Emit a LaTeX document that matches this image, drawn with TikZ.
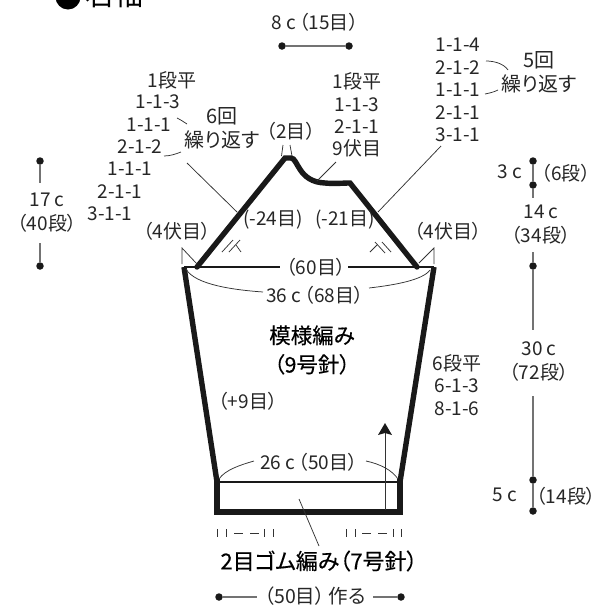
\documentclass[tikz,border=0pt]{standalone}
\usepackage{fontspec}
\setmainfont[RawFeature={+palt}]{Noto Sans CJK JP}
\newfontfamily\medfont[RawFeature={+palt},FakeBold=0.3]{Noto Sans CJK JP}
\begin{document}
\begin{tikzpicture}[x=1pt,y=-1pt,
  lbl/.style={inner sep=0pt,font=\fontsize{19}{20}\selectfont,text=black!85,align=center},
  lblb/.style={inner sep=0pt,font=\medfont\fontsize{22}{24}\selectfont,text=black,align=center},
  thick line/.style={line width=5.4pt,color=black!90,line join=miter},
  mid line/.style={line width=2.6pt,color=black!90},
  thin line/.style={line width=0.75pt,color=black!80},
  dim line/.style={line width=1.1pt,color=black!55},
  dimdot/.style={circle,fill=black!90,draw=none,inner sep=0pt,minimum size=7.5pt}]
\useasboundingbox (0,0) rectangle (597,606);
\clip (0,0) rectangle (597,606);
% title
\node[circle,fill=black,inner sep=0pt,minimum size=25pt] (bullet) at (68,-3) {};
\node[lbl,text=black,font=\fontsize{29}{30}\selectfont,anchor=west] (title) at (85,-6) {右袖};
% outline
\coordinate (apexL) at (285,158);
\coordinate (apexR) at (291,158);
\coordinate (shL) at (197,267);
\coordinate (cornL) at (184,267);
\coordinate (shR) at (417,267);
\coordinate (cornR) at (434,267);
\coordinate (cuffL) at (217,482);
\coordinate (cuffR) at (400,482);
\coordinate (botL) at (217,512);
\coordinate (botR) at (400,512);
\coordinate (capB) at (350,183);
\draw[thick line] (cornL) -- (cuffL);
\draw[thick line] (cornR) -- (cuffR);
\draw[thick line,line cap=round] (shL) -- (apexL) -- (apexR)
  .. controls (298,158) and (298,182) .. (325,183)
  .. controls (335,184) and (342,183) .. (capB) -- (shR);
\draw[thick line,line cap=rect] (cuffL) -- (botL) -- (botR) -- (cuffR);
\draw[mid line] (cuffL) -- (cuffR);
\draw[mid line] (cornL) -- (shL) -- (280,267);
\draw[mid line] (348,267) -- (shR) -- (cornR);
\node[lbl] (w60) at (316,267) {（60目）};
% cap dart marks
\draw[thin line] (222,252) -- (233,240);
\draw[thin line] (229,252) -- (240,240);
\draw[thin line] (236,245) -- (241,252);
\draw[thin line] (370,252) -- (377,245);
\draw[thin line] (375,242) -- (385,253);
\draw[thin line] (382,242) -- (391,252);
% neck ticks
\draw[thin line] (283,145) -- (281.5,156);
\draw[thin line] (290,145) -- (292,156);
% corner triangles
\draw[thin line] (182,264) -- (182,248) -- (197,264);
\draw[thin line] (434,264) -- (434,248) -- (419,263);
% curves
\node[lbl] (w36) at (315,295) {36 c\,（68目）};
\draw[thin line] (186,269) .. controls (195,285) and (235,290) .. (263,292);
\draw[thin line] (369,288) .. controls (395,285) and (423,280) .. (430,270);
\node[lbl] (w26) at (309,462) {26 c\,（50目）};
\draw[thin line] (219,479) .. controls (225,470) and (240,465) .. (254,461);
\draw[thin line] (366,461) .. controls (380,464) and (392,470) .. (398,479);
% arrow
\draw[thin line,line width=1pt] (385,510) -- (385,430);
\fill[black!90] (385,423) -- (392,435) -- (385,433) -- (378,435) -- cycle;
% center labels
\node[lbl,font=\medfont\fontsize{21.5}{29}\selectfont,text=black] (main) at (312,350) {模様編み\\（9号針）};
\node[lbl] (plus9) at (248,401) {（+9目）};
\node[lbl] (m24) at (273,220) {(-24目)};
\node[lbl] (m21) at (345,220) {(-21目)};
\node[lbl] (fuseL) at (177,231) {（4伏目）};
\node[lbl] (fuseR) at (448,231) {（4伏目）};
\node[lbl] (w2) at (291,131) {（2目）};
% top dim
\node[lbl] (w8) at (315,22) {8 c\,（15目）};
\node[dimdot] (t1) at (282,46) {};
\node[dimdot] (t2) at (349,46) {};
\draw[dim line] (t1) -- (t2);
% left dim
\node[lbl,font=\fontsize{19}{24}\selectfont] (h17) at (47,213) {17 c\\（40段）};
\node[dimdot] (l1) at (40,161) {};
\node[dimdot] (l2) at (40,266) {};
\draw[dim line] (l1) -- (40,183);
\draw[dim line] (40,243) -- (l2);
% right dims
\node[dimdot] (r1) at (533,161) {};
\node[dimdot] (r2) at (533,185) {};
\node[dimdot] (r3) at (533,266) {};
\node[dimdot] (r4) at (533,480) {};
\node[dimdot] (r5) at (533,511) {};
\draw[dim line] (r1) -- (r2) -- (533,198);
\draw[dim line] (533,252) -- (r3) -- (533,330);
\draw[dim line] (533,396) -- (r4) -- (r5);
\node[lbl] (h3) at (510,172) {3 c};
\node[lbl] (h6) at (566,173) {（6段）};
\node[lbl,font=\fontsize{19}{24}\selectfont] (h14) at (541,225) {14 c\\（34段）};
\node[lbl,font=\fontsize{19}{24}\selectfont] (h30) at (539,362) {30 c\\（72段）};
\node[lbl] (h5) at (505,495) {5 c};
\node[lbl] (h14b) at (566,496) {（14段）};
\node[lbl,font=\fontsize{19}{22.5}\selectfont] (inc) at (457,385) {6段平\\6-1-3\\8-1-6};
% left shaping
\node[lbl] (a1) at (172,80) {1段平};
\node[lbl] (a2) at (158,102) {1-1-3};
\node[lbl] (a3) at (149,125) {1-1-1};
\node[lbl] (a4) at (140,147) {2-1-2};
\node[lbl] (a5) at (130,169) {1-1-1};
\node[lbl] (a6) at (120,192) {2-1-1};
\node[lbl] (a7) at (110,214) {3-1-1};
\node[lbl,font=\fontsize{20}{24}\selectfont] (rep6) at (222,128) {6回\\繰り返す};
\draw[thin line] (177,118) .. controls (181,120) and (184,122) .. (187,124);
\draw[thin line] (164,156) .. controls (170,156) and (176,154) .. (181,152);
\coordinate (lead1) at (237,212);
\draw[thin line] (187,163) -- (lead1);
% middle shaping
\node[lbl,font=\fontsize{19}{22.3}\selectfont] (cen) at (357,115) {1段平\\1-1-3\\2-1-1\\9伏目};
\draw[thin line] (336,162) -- (317,181);
% right shaping
\node[lbl,font=\fontsize{19}{22.5}\selectfont] (b) at (458,90) {1-1-4\\2-1-2\\1-1-1\\2-1-1\\3-1-1};
\node[lbl,font=\fontsize{20}{24}\selectfont] (rep5) at (539,72) {5回\\繰り返す};
\draw[thin line] (486,61) .. controls (495,61) and (504,64) .. (508,70);
\draw[thin line] (485,94) .. controls (490,93) and (494,92) .. (498,90);
\draw[thin line] (441,146) -- (378,212);
% rib
\draw[thin line] (299,499) -- (319,546);
\draw[thin line,line width=0.8pt]
 (217.5,529) -- (217.5,537) (226.5,529) -- (226.5,537)
 (234,533) -- (243,533) (250,533) -- (259,533)
 (264.5,529) -- (264.5,537) (273,529) -- (273,537)
 (346,529) -- (346,537) (355,529) -- (355,537)
 (362,533) -- (371,533) (378,533) -- (387,533)
 (393,529) -- (393,537) (401.5,529) -- (401.5,537);
\node[lblb] (rib) at (319,561) {2目ゴム編み（7号針）};
\node[dimdot] (c1) at (219,597) {};
\node[dimdot] (c2) at (401,597) {};
\node[lbl,font=\fontsize{19.5}{20}\selectfont] (cast) at (315,596) {（50目）\,作る};
\draw[dim line] (c1) -- (257,597);
\draw[dim line] (373,597) -- (c2);
\end{tikzpicture}
\end{document}
